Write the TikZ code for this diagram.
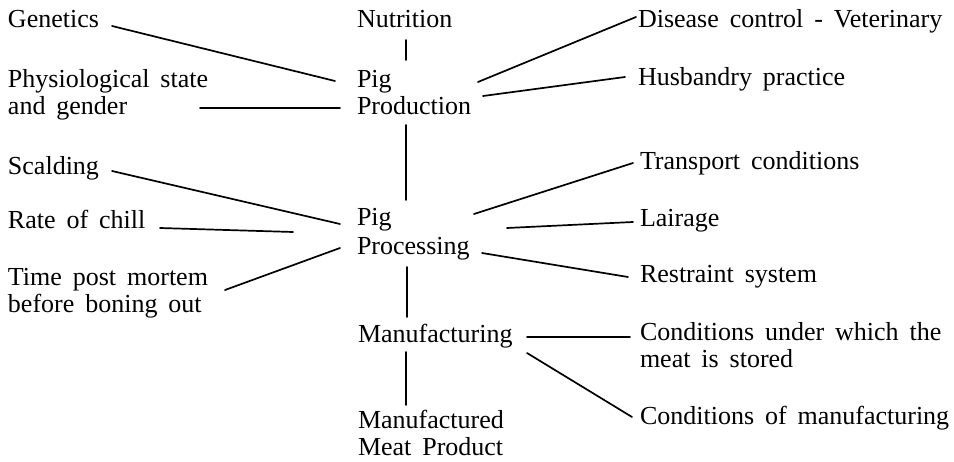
\documentclass[tikz,border=0pt]{standalone}
\usepackage{fontspec}
\setmainfont{Liberation Serif}
\usetikzlibrary{calc}
\begin{document}
\begin{tikzpicture}[x=1pt,y=-1pt,
  lbl/.style={anchor=base west,inner sep=0pt,outer sep=0pt,align=left,
    font={\fontsize{26}{27}\selectfont\spaceskip=0.42em\relax}},
  conn/.style={line width=1.7pt,line cap=round}]
\useasboundingbox[fill=white] (0,0) rectangle (954,462);
% nodes (multi-line nodes are placed at the baseline of their last line)
\node[lbl] (gen) at (8,28) {Genetics};
\node[lbl] (nut) at (357,28) {Nutrition};
\node[lbl] (dis) at (638,28) {Disease control - Veterinary};
\node[lbl] (pig1) at (357,88) {Pig};
\node[lbl] (phys) at (8,115) {Physiological state\\and gender};
\node[lbl] (prod) at (357,115) {Production};
\node[lbl] (hus) at (638,86) {Husbandry practice};
\node[lbl] (scal) at (8,175) {Scalding};
\node[lbl] (tra) at (640,170) {Transport conditions};
\node[lbl] (pig2) at (357,226) {Pig};
\node[lbl] (rate) at (8,229) {Rate of chill};
\node[lbl] (lai) at (640,227) {Lairage};
\node[lbl] (proc) at (357,255) {Processing};
\node[lbl] (res) at (640,283) {Restraint system};
\node[lbl] (tpm) at (8,313) {Time post mortem\\before boning out};
\node[lbl] (man) at (358,343) {Manufacturing};
\node[lbl] (cu) at (640,368) {Conditions under which the\\meat is stored};
\node[lbl] (cm) at (640,425) {Conditions of manufacturing};
\node[lbl] (mfd) at (358,456) {Manufactured\\Meat Product};
% connectors
\draw[conn] ([shift={(104,-2)}]gen.base west) -- ([shift={(-22,-7)}]pig1.base west);
\draw[conn] ([shift={(192,-7)}]phys.base west) -- ([shift={(-17,-7)}]prod.base west);
\draw[conn] ([shift={(49,12)}]nut.base west) -- ([shift={(49,-28)}]pig1.base west);
\draw[conn] ([shift={(49,10)}]prod.base west) -- ([shift={(49,-26)}]pig2.base west);
\draw[conn] ([shift={(121,-6)}]pig1.base west) -- ([shift={(-2,-11)}]dis.base west);
\draw[conn] ([shift={(126,-19)}]prod.base west) -- ([shift={(-13,-9)}]hus.base west);
\draw[conn] ([shift={(104,-4)}]scal.base west) -- ([shift={(-17,-2)}]pig2.base west);
\draw[conn] ([shift={(152,-1)}]rate.base west) -- ([shift={(-64,6)}]pig2.base west);
\draw[conn] ([shift={(217,-23)}]tpm.base west) -- ([shift={(-17,-7)}]proc.base west);
\draw[conn] ([shift={(117,-12)}]pig2.base west) -- ([shift={(-7,-7)}]tra.base west);
\draw[conn] ([shift={(150,2)}]pig2.base west) -- ([shift={(-7,-5)}]lai.base west);
\draw[conn] ([shift={(125,-2)}]proc.base west) -- ([shift={(-12,-6)}]res.base west);
\draw[conn] ([shift={(50,12)}]proc.base west) -- ([shift={(49,-26)}]man.base west);
\draw[conn] ([shift={(169,-6)}]man.base west) -- ([shift={(-10,-31)}]cu.base west);
\draw[conn] ([shift={(48,9)}]man.base west) -- ([shift={(48,-51)}]mfd.base west);
\draw[conn] ([shift={(169,10)}]man.base west) -- ([shift={(-8,-8)}]cm.base west);
\end{tikzpicture}
\end{document}
